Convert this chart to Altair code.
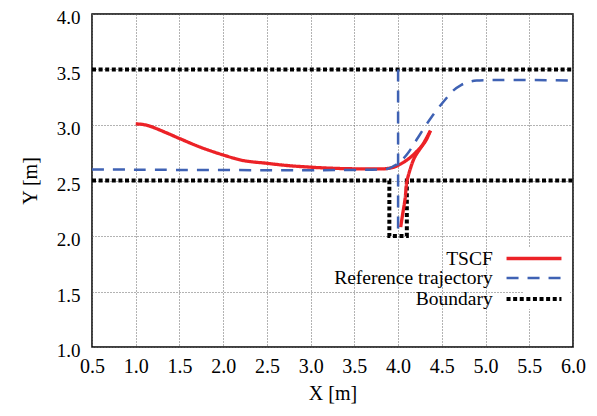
import altair as alt
import pandas as pd

# TSCF trajectory (red): forward part then reversing part into the slot
tscf_fwd_x = [1.0, 1.08, 1.16, 1.35, 1.51, 1.74, 2.0, 2.23, 2.5, 2.73, 3.0, 3.26, 3.53, 3.74, 3.88,
              3.95, 4.02, 4.12, 4.21, 4.31, 4.37]
tscf_fwd_y = [3.01, 3.005, 2.99, 2.93, 2.875, 2.80, 2.73, 2.68, 2.655, 2.635, 2.62, 2.61, 2.605, 2.604, 2.608,
              2.62, 2.645, 2.695, 2.76, 2.85, 2.95]
tscf_rev_x = [4.37, 4.28, 4.19, 4.14, 4.10, 4.08, 4.05, 4.03]
tscf_rev_y = [2.95, 2.82, 2.71, 2.606, 2.485, 2.336, 2.186, 2.08]

# Reference trajectory (blue dashed): main path + vertical segment
ref_x = [0.5, 3.8, 3.9, 3.96, 4.02, 4.12, 4.23, 4.385, 4.54, 4.63, 4.72, 4.8, 4.9, 6.0]
ref_y = [2.6, 2.6, 2.61, 2.635, 2.665, 2.755, 2.89, 3.075, 3.23, 3.31, 3.36, 3.385, 3.4, 3.4]
ref_v_x = [4.0, 4.0]
ref_v_y = [3.5, 2.05]

# Boundary (black dotted): upper line + lower line with parking slot
bnd_top_x = [0.5, 6.0]
bnd_top_y = [3.5, 3.5]
bnd_low_x = [0.5, 3.9, 3.9, 4.1, 4.1, 6.0]
bnd_low_y = [2.5, 2.5, 2.0, 2.0, 2.5, 2.5]

series_names = ["TSCF", "Reference trajectory", "Boundary"]
x_ticks = [0.5, 1.0, 1.5, 2.0, 2.5, 3.0, 3.5, 4.0, 4.5, 5.0, 5.5, 6.0]
y_ticks = [1.0, 1.5, 2.0, 2.5, 3.0, 3.5, 4.0]

rows = []
def add(xs, ys, series, seg):
    for i, (a, b) in enumerate(zip(xs, ys)):
        rows.append({"x": a, "y": b, "series": series, "seg": seg, "ord": i})

add(tscf_fwd_x, tscf_fwd_y, "TSCF", "t1")
add(tscf_rev_x, tscf_rev_y, "TSCF", "t2")
add(ref_x, ref_y, "Reference trajectory", "r1")
add(ref_v_x, ref_v_y, "Reference trajectory", "r2")
add(bnd_top_x, bnd_top_y, "Boundary", "b1")
add(bnd_low_x, bnd_low_y, "Boundary", "b2")
df = pd.DataFrame(rows)

FONT = "Liberation Serif"
FS = 20
YFS = 19
LFS = 19.5

legend = alt.Legend(title=None, orient="none", legendX=431, legendY=234,
                    labelAlign="right", labelOffset={"expr": "-52.25"},
                    labelFont=FONT, labelFontSize=LFS, labelColor="black", labelLimit=300,
                    symbolType="M-3.14,0H3.14", symbolSize=306,
                    fillColor="white", padding=0, rowPadding=0)

base = alt.Chart(df).encode(
    x=alt.X("x:Q", scale=alt.Scale(domain=[0.5, 6.0], nice=False, zero=False),
            axis=alt.Axis(title="X [m]", values=x_ticks, format=".1f",
                          labelFont=FONT, labelFontSize=FS, titleFont=FONT, titleFontSize=FS)),
    y=alt.Y("y:Q", scale=alt.Scale(domain=[1.0, 4.0], nice=False, zero=False),
            axis=alt.Axis(title="Y [m]", values=y_ticks, format=".1f", labelOffset=3.5,
                          labelFont=FONT, labelFontSize=YFS, titleFont=FONT, titleFontSize=FS)),
    color=alt.Color("series:N", scale=alt.Scale(domain=series_names,
                    range=["#ec2227", "#3f62b4", "#000000"]), legend=legend),
    strokeDash=alt.StrokeDash("series:N", scale=alt.Scale(domain=series_names,
                              range=[[1, 0], [12, 9], [4, 2.6]]), legend=legend),
    strokeWidth=alt.StrokeWidth("series:N", scale=alt.Scale(type="ordinal", domain=series_names,
                                range=[3.3, 2.5, 4]), legend=legend),
    detail="seg:N",
    order="ord:Q",
)

bnd = base.mark_line(strokeCap="butt", strokeJoin="miter").transform_filter(
    alt.datum.series == "Boundary")
traj = base.mark_line(strokeCap="butt", strokeJoin="round", interpolate="catmull-rom").transform_filter(
    alt.datum.series != "Boundary")

chart = alt.layer(bnd, traj).properties(
    width=481, height=333,
    padding={"left": 84, "top": 6, "right": 16, "bottom": 61},
    autosize=alt.AutoSizeParams(type="none"),
).configure_view(
    stroke="black", strokeWidth=1.5
).configure_axis(
    labelFont=FONT, labelFontSize=FS, labelColor="black",
    titleFont=FONT, titleFontSize=FS, titleFontWeight="normal", titleColor="black",
    ticks=False, domain=False, grid=True, gridDash=[1, 2], gridColor="#666", gridWidth=1,
    labelFlush=False, labelOverlap=False,
).configure_axisX(
    labelPadding=9, titlePadding=7
).configure_axisY(
    labelPadding=12, titlePadding=16
)

chart.save("out.html", embed_options={"renderer": "svg", "actions": False})
